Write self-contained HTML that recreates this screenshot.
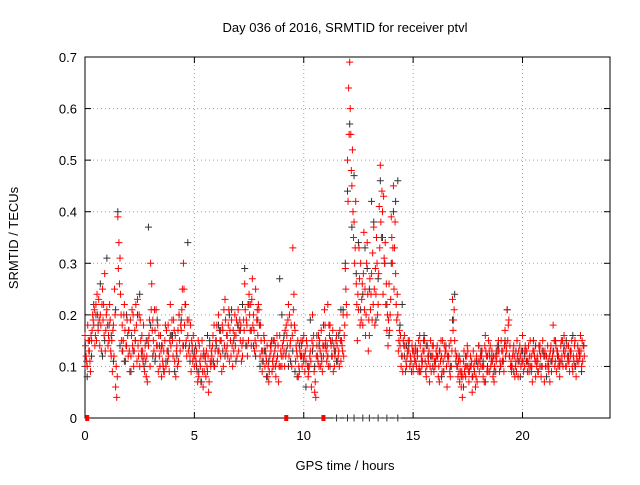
<!DOCTYPE html>
<html><head><meta charset="utf-8"><style>
body{margin:0;background:#fff;}
svg text{font-family:"Liberation Sans",sans-serif;font-size:13px;fill:#000;}
</style></head><body>
<svg id="chart" width="640" height="480" xmlns="http://www.w3.org/2000/svg">
<rect width="640" height="480" fill="#fff"/>
<text x="345" y="32" text-anchor="middle">Day 036 of 2016, SRMTID for receiver ptvl</text>
<text x="345" y="470" text-anchor="middle">GPS time / hours</text>
<text x="0" y="0" transform="translate(18,238) rotate(-90)" text-anchor="middle">SRMTID / TECUs</text>
<g id="grid"></g><g id="axes"></g><g id="pts"></g>
</svg>
<script>
const xTicks=[0,5,10,15,20];
const yTicks=[0,0.1,0.2,0.3,0.4,0.5,0.6,0.7];
const yTickLabels=["0","0.1","0.2","0.3","0.4","0.5","0.6","0.7"];
const redA=[0.16,0.10,0.13,0.15,0.18,0.22,0.17,0.20,0.25,0.28,
0.21,0.15,0.12,0.18,0.06,0.39,0.31,0.18,0.22,0.14,
0.17,0.12,0.20,0.15,0.23,0.10,0.16,0.12,0.08,0.14,
0.30,0.19,0.17,0.14,0.12,0.08,0.13,0.10,0.18,0.22,
0.15,0.11,0.14,0.20,0.17,0.30,0.22,0.16,0.12,0.14,
0.10,0.13,0.08,0.12,0.06,0.11,0.09,0.14,0.12,0.18,
0.15,0.20,0.12,0.17,0.23,0.14,0.11,0.19,0.13,0.16,
0.21,0.15,0.12,0.26,0.18,0.24,0.14,0.20,0.25,0.16,
0.12,0.09,0.15,0.11,0.07,0.13,0.10,0.14,0.12,0.16,
0.10,0.13,0.18,0.22,0.15,0.33,0.17,0.12,0.09,0.14,
0.16,0.11,0.08,0.13,0.20,0.05,0.14,0.10,0.17,0.12,
0.15,0.22,0.18,0.12,0.10,0.16,0.13,0.11,0.20,0.29,
0.50,0.69,0.45,0.38,0.26,0.21,0.30,0.18,0.25,0.34,
0.16,0.28,0.37,0.24,0.22,0.49,0.40,0.30,0.17,0.26,
0.39,0.45,0.28,0.20,0.14,0.12,0.16,0.10,0.13,0.11,
0.09,0.14,0.12,0.16,0.10,0.13,0.08,0.11,0.15,0.12,
0.10,0.14,0.07,0.12,0.09,0.13,0.11,0.08,0.23,0.15,
0.12,0.09,0.06,0.11,0.08,0.13,0.10,0.05,0.09,0.12,
0.14,0.10,0.08,0.16,0.12,0.09,0.13,0.07,0.11,0.15,
0.10,0.13,0.17,0.21,0.12,0.09,0.14,0.11,0.08,0.12,
0.16,0.10,0.13,0.09,0.12,0.15,0.08,0.11,0.14,0.10,
0.07,0.12,0.09,0.14,0.18,0.11,0.13,0.08,0.12,0.16,
0.10,0.14,0.12,0.09,0.15,0.11,0.13,0.10,0.14];
const redB=[0.12,0.15,0.09,0.20,0.14,0.24,0.19,0.13,0.22,0.17,
0.14,0.19,0.09,0.25,0.04,0.34,0.20,0.15,0.11,0.16,
0.09,0.21,0.13,0.18,0.12,0.15,0.11,0.14,0.07,0.19,
0.26,0.13,0.21,0.09,0.16,0.11,0.15,0.13,0.09,0.16,
0.19,0.08,0.17,0.13,0.25,0.18,0.12,0.19,0.09,0.16,
0.14,0.07,0.11,0.15,0.09,0.13,0.05,0.10,0.16,0.13,
0.11,0.17,0.09,0.21,0.13,0.18,0.15,0.10,0.20,0.12,
0.17,0.11,0.19,0.14,0.22,0.17,0.27,0.13,0.19,0.21,
0.15,0.11,0.13,0.08,0.12,0.09,0.15,0.11,0.07,0.13,
0.12,0.17,0.14,0.20,0.10,0.24,0.14,0.08,0.12,0.15,
0.09,0.14,0.10,0.06,0.16,0.04,0.11,0.13,0.09,0.21,
0.11,0.18,0.14,0.09,0.13,0.11,0.17,0.14,0.16,0.22,
0.64,0.55,0.40,0.33,0.15,0.27,0.23,0.36,0.20,0.13,
0.21,0.32,0.18,0.30,0.41,0.35,0.43,0.22,0.14,0.20,
0.30,0.33,0.19,0.15,0.10,0.15,0.09,0.13,0.10,0.14,
0.12,0.10,0.15,0.09,0.13,0.11,0.14,0.07,0.12,0.09,
0.13,0.08,0.11,0.15,0.12,0.06,0.14,0.10,0.19,0.11,
0.08,0.11,0.04,0.09,0.12,0.07,0.10,0.13,0.06,0.10,
0.11,0.13,0.07,0.12,0.15,0.10,0.08,0.12,0.14,0.09,
0.13,0.09,0.14,0.18,0.10,0.12,0.08,0.15,0.11,0.13,
0.09,0.13,0.11,0.15,0.07,0.12,0.10,0.14,0.08,0.13,
0.10,0.14,0.07,0.11,0.15,0.09,0.12,0.14,0.10,0.13,
0.12,0.09,0.15,0.11,0.08,0.13,0.16,0.11];
const redC=[0.14,0.18,0.11,0.17,0.21,0.15,0.23,0.18,0.19,0.13,
0.18,0.22,0.15,0.12,0.10,0.29,0.24,0.13,0.17,0.19,
0.13,0.16,0.10,0.22,0.14,0.19,0.13,0.09,0.12,0.16,
0.21,0.15,0.12,0.18,0.10,0.14,0.09,0.17,0.12,0.14,
0.12,0.16,0.10,0.15,0.21,0.25,0.15,0.13,0.18,0.11,
0.12,0.09,0.14,0.07,0.13,0.08,0.12,0.11,0.14,0.10,
0.18,0.13,0.15,0.10,0.19,0.12,0.17,0.14,0.16,0.19,
0.13,0.18,0.15,0.21,0.12,0.20,0.23,0.17,0.14,0.22,
0.18,0.13,0.10,0.14,0.09,0.15,0.12,0.08,0.14,0.10,
0.14,0.10,0.16,0.12,0.18,0.21,0.11,0.15,0.13,0.10,
0.12,0.15,0.09,0.11,0.14,0.07,0.12,0.15,0.11,0.14,
0.13,0.10,0.15,0.17,0.12,0.14,0.10,0.15,0.12,0.25,
0.42,0.60,0.52,0.30,0.22,0.33,0.19,0.28,0.16,0.24,
0.27,0.19,0.25,0.35,0.28,0.38,0.24,0.34,0.20,0.17,
0.35,0.25,0.22,0.13,0.16,0.09,0.14,0.12,0.15,0.09,
0.13,0.11,0.09,0.14,0.11,0.15,0.10,0.13,0.09,0.14,
0.11,0.12,0.13,0.09,0.14,0.10,0.12,0.15,0.17,0.13,
0.10,0.07,0.09,0.13,0.10,0.09,0.12,0.08,0.11,0.07,
0.09,0.12,0.10,0.13,0.09,0.14,0.11,0.10,0.12,0.13,
0.15,0.11,0.12,0.15,0.14,0.10,0.12,0.09,0.13,0.10,
0.11,0.14,0.09,0.12,0.10,0.13,0.11,0.09,0.12,0.15,
0.13,0.10,0.12,0.09,0.13,0.14,0.10,0.11,0.15,0.12,
0.14,0.11,0.13,0.12,0.10,0.14,0.12,0.15,0.12];
const redD=[0.11,0.13,0.16,0.19,0.16,0.20,0.14,0.22,0.16,0.20,
0.16,0.13,0.17,0.20,0.08,0.26,0.15,0.20,0.14,0.12,
0.19,0.14,0.17,0.11,0.20,0.13,0.18,0.11,0.15,0.10,
0.17,0.21,0.14,0.16,0.13,0.10,0.18,0.11,0.15,0.19,
0.17,0.13,0.11,0.18,0.14,0.22,0.19,0.14,0.15,0.12,
0.11,0.15,0.10,0.09,0.12,0.10,0.07,0.13,0.11,0.15,
0.13,0.15,0.18,0.14,0.16,0.21,0.12,0.17,0.14,0.18,
0.19,0.14,0.17,0.19,0.15,0.22,0.18,0.15,0.21,0.18,
0.13,0.16,0.12,0.10,0.14,0.11,0.13,0.16,0.10,0.12,
0.15,0.12,0.19,0.14,0.16,0.18,0.13,0.10,0.15,0.12,
0.13,0.10,0.12,0.15,0.09,0.12,0.16,0.10,0.14,0.18,
0.14,0.16,0.12,0.14,0.15,0.12,0.15,0.13,0.18,0.20,
0.55,0.48,0.35,0.42,0.24,0.18,0.26,0.21,0.30,0.19,
0.24,0.22,0.29,0.20,0.33,0.44,0.31,0.26,0.19,0.23,
0.33,0.38,0.24,0.17,0.12,0.14,0.11,0.15,0.12,0.13,
0.11,0.13,0.10,0.12,0.15,0.09,0.12,0.10,0.14,0.11,
0.12,0.10,0.15,0.11,0.13,0.12,0.09,0.13,0.21,0.12,
0.11,0.09,0.08,0.10,0.14,0.09,0.11,0.10,0.08,0.11,
0.12,0.10,0.14,0.09,0.13,0.11,0.12,0.09,0.13,0.11,
0.11,0.14,0.13,0.19,0.11,0.13,0.10,0.12,0.14,0.11,
0.13,0.11,0.14,0.10,0.13,0.11,0.12,0.13,0.10,0.12,
0.12,0.11,0.13,0.12,0.10,0.13,0.11,0.15,0.13,0.10,
0.11,0.13,0.10,0.14,0.12,0.11,0.13,0.14];
const black=[0.08,0.12,0.20,0.26,0.15,0.18,0.11,0.40,0.13,0.20,0.09,0.15,0.24,0.10,0.37,0.12,0.19,0.14,0.11,0.16,
0.09,0.20,0.14,0.34,0.13,0.10,0.07,0.12,0.15,0.10,0.18,0.13,0.16,0.21,0.11,0.17,0.29,0.22,0.14,0.19,
0.11,0.08,0.14,0.10,0.27,0.16,0.10,0.13,0.08,0.12,0.06,0.19,0.10,0.14,0.18,0.12,0.15,0.11,0.21,0.30,
0.57,0.47,0.34,0.24,0.29,0.42,0.19,0.46,0.30,0.16,0.40,0.46,0.22,0.14,0.11,0.13,0.09,0.16,0.12,0.10,
0.12,0.08,0.14,0.10,0.24,0.12,0.06,0.10,0.08,0.11,0.13,0.07,0.12,0.09,0.14,0.11,0.21,0.10,0.13,0.08,
0.12,0.10,0.15,0.09,0.13,0.08,0.11,0.15,0.10,0.14,0.12,0.16,0.11,0.09];
const black2=[0.10,0.15,0.22,0.18,0.12,0.31,0.16,0.21,0.14,0.11,0.17,0.13,0.20,0.12,0.15,0.18,0.11,0.14,0.09,0.13,
0.16,0.12,0.19,0.14,0.11,0.13,0.09,0.12,0.16,0.11,0.14,0.17,0.12,0.20,0.15,0.18,0.22,0.14,0.17,0.12,
0.10,0.13,0.11,0.15,0.12,0.20,0.13,0.11,0.09,0.14,0.11,0.10,0.13,0.16,0.12,0.14,0.10,0.13,0.16,0.21,
0.44,0.37,0.28,0.21,0.33,0.25,0.38,0.27,0.35,0.22,0.30,0.42,0.18,0.12,0.14,0.10,0.13,0.11,0.14,0.12,
0.10,0.13,0.09,0.12,0.19,0.10,0.08,0.12,0.10,0.09,0.14,0.11,0.10,0.12,0.13,0.10,0.15,0.12,0.09,0.11,
0.13,0.11,0.09,0.14,0.10,0.12,0.10,0.13,0.12,0.11,0.15,0.13,0.10,0.12,0.14];
const redZeroTimes=[0.1,9.2,10.9];
const blackZeroTimes=[11.5,12.0,12.3,12.7,13.0,13.4,13.8,14.3];

const X0=85,X1=610,Y0=418,Y1=57,XMAX=24,YMAX=0.7;
const xs=v=>X0+v/XMAX*(X1-X0);
const ys=v=>Y0-v/YMAX*(Y0-Y1);
const NS="http://www.w3.org/2000/svg";
function mk(tag,attrs,parent){const e=document.createElementNS(NS,tag);for(const k in attrs)e.setAttribute(k,attrs[k]);parent.appendChild(e);return e;}
const grid=document.getElementById('grid'),axes=document.getElementById('axes'),pts=document.getElementById('pts');
yTicks.forEach((t,i)=>{
  const y=ys(t);
  if(i>0&&i<yTicks.length-1){const g=mk('line',{x1:X0,x2:X1,y1:y,y2:y,stroke:'#a0a0a0','stroke-dasharray':'1,3'},grid);
  
  }
  mk('line',{x1:X0,x2:X0+6,y1:y,y2:y,stroke:'#000'},axes);
  mk('line',{x1:X1,x2:X1-6,y1:y,y2:y,stroke:'#000'},axes);
  const tx=mk('text',{x:X0-8,y:y+5,'text-anchor':'end'},axes);tx.textContent=yTickLabels[i];
  
  
});
xTicks.forEach((t,i)=>{
  const x=xs(t);
  if(i>0){const g=mk('line',{x1:x,x2:x,y1:Y0,y2:Y1,stroke:'#a0a0a0','stroke-dasharray':'1,3'},grid);
  
  }
  mk('line',{x1:x,x2:x,y1:Y0,y2:Y0-6,stroke:'#000'},axes);
  mk('line',{x1:x,x2:x,y1:Y1,y2:Y1+6,stroke:'#000'},axes);
  const tx=mk('text',{x:x,y:Y0+22,'text-anchor':'middle'},axes);tx.textContent=String(t);
  
  
});
const frame=mk('rect',{x:X0,y:Y1,width:X1-X0,height:Y0-Y1,fill:'none',stroke:'#000'},axes);


function plus(x,y,color,name){
  const p=mk('path',{d:`M${x-3.5},${y}h7M${x},${y-3.5}v7`,stroke:color,'stroke-width':1},pts);
  
  
}
black.forEach((v,i)=>plus(xs(0.1+i*0.2),ys(v),'#333','black-point'));
black2.forEach((v,i)=>plus(xs(i*0.2),ys(v),'#333','black-point'));
blackZeroTimes.forEach(t=>plus(xs(t),ys(0),'#333','black-zero-point'));
redA.forEach((v,i)=>plus(xs(i*0.1),ys(v),'#f00','red-point'));
redB.forEach((v,i)=>plus(xs(0.05+i*0.1),ys(v),'#f00','red-point'));
redC.forEach((v,i)=>plus(xs(0.025+i*0.1),ys(v),'#f00','red-point'));
redD.forEach((v,i)=>plus(xs(0.075+i*0.1),ys(v),'#f00','red-point'));
redZeroTimes.forEach(t=>{const r=mk('rect',{x:xs(t)-2,y:ys(0)-3,width:4,height:6,fill:'#f00'},pts);

});
</script>
</body></html>
